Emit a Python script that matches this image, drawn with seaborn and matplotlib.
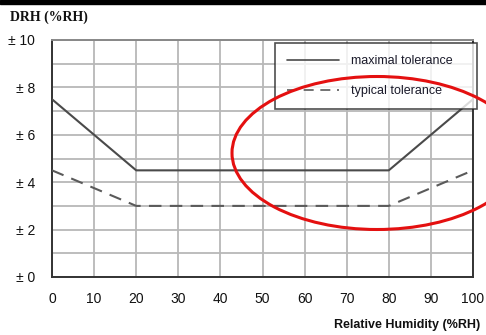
import matplotlib
matplotlib.use("Agg")
import matplotlib.pyplot as plt
from matplotlib.patches import Ellipse
from matplotlib.lines import Line2D
import numpy as np
import pandas as pd
import seaborn as sns

# Tolerance curves: humidity (%RH) vs. accuracy (± %RH)
rh_points = [0, 20, 80, 100]
max_tol = [7.5, 4.5, 4.5, 7.5]
typ_tol = [4.5, 3.0, 3.0, 4.5]
series_names = ["maximal tolerance", "typical tolerance"]
x_ticks = [0, 10, 20, 30, 40, 50, 60, 70, 80, 90, 100]
y_ticks = [0, 2, 4, 6, 8, 10]
y_tick_labels = ["± 0", "± 2", "± 4", "± 6", "± 8", "± 10"]

df = pd.DataFrame({
    "rh": rh_points * 2,
    "tol": max_tol + typ_tol,
    "kind": [series_names[0]] * len(rh_points) + [series_names[1]] * len(rh_points),
})

sns.set_style("white")
plt.rcParams["font.family"] = ["Liberation Sans", "DejaVu Sans"]

fig = plt.figure(figsize=(4.86, 3.35), dpi=100)
W, H = 486, 335
ax = fig.add_axes([52 / W, 1 - 277 / H, (473 - 52) / W, (277 - 40) / H])

sns.lineplot(data=df, x="rh", y="tol", hue="kind", style="kind",
             palette={series_names[0]: "#4a4a4a", series_names[1]: "#5a5a5a"},
             dashes={series_names[0]: "", series_names[1]: (6, 4)},
             linewidth=1.5, ax=ax, legend=False, zorder=3)

ax.set_xlim(0, 100)
ax.set_ylim(0, 10)
ax.set_xticks(x_ticks)
ax.set_yticks(y_ticks)
ax.set_yticklabels(y_tick_labels)
ax.set_yticks(np.arange(1, 10, 2), minor=True)
ax.tick_params(axis="both", which="major", direction="out", length=4, width=1.2,
               color="#333333", labelsize=10, labelcolor="#111111")
ax.tick_params(axis="y", which="minor", length=0)
ax.tick_params(axis="y", pad=8)
ax.tick_params(axis="x", pad=7)
ax.grid(True, which="both", color="#b8b8b8", linewidth=1.3, zorder=0)
ax.set_axisbelow(True)
for side in ["left", "bottom", "right"]:
    ax.spines[side].set_color("#333333")
    ax.spines[side].set_linewidth(1.4)
ax.spines["top"].set_color("#888888")
ax.spines["top"].set_linewidth(1.4)
ax.set_xlabel("")
ax.set_ylabel("")

# Legend box drawn with handles for both curves
handles = [Line2D([], [], color="#4a4a4a", lw=1.2),
           Line2D([], [], color="#5a5a5a", lw=1.2, dashes=(6, 4))]
leg = fig.legend(handles, series_names, loc="upper left",
                 bbox_to_anchor=(275 / W, 1 - 105 / H, (477 - 275) / W, 62 / H),
                 mode="expand", frameon=True, fancybox=False, fontsize=9,
                 handlelength=4.2, handletextpad=0.9, borderpad=0.95,
                 labelspacing=1.45, borderaxespad=0, labelcolor="#1a1a2a")
leg.get_frame().set_edgecolor("#222222")
leg.get_frame().set_linewidth(1.2)
leg.set_zorder(5)

# Axis titles
fig.text(10 / W, 1 - 17 / H, "DRH (%RH)", family=["Liberation Serif", "DejaVu Serif"],
         fontweight="bold", fontsize=10, va="center", ha="left", color="#111111")
fig.text(480 / W, 1 - 325 / H, "Relative Humidity (%RH)", fontweight="bold",
         fontsize=9, va="center", ha="right", color="#111111")

# Black band along the top edge
fig.add_artist(plt.Rectangle((0, 1 - 4 / H), 1, 4 / H, transform=fig.transFigure,
                             color="black", zorder=10))

# Red highlight ellipse in figure pixel coordinates
ell = Ellipse((377 / W, 1 - 153 / H), 290 / W, 153 / H, transform=fig.transFigure,
              fill=False, edgecolor="#e41010", linewidth=2.2, zorder=8)
fig.add_artist(ell)

fig.savefig("out.png", dpi=100)
